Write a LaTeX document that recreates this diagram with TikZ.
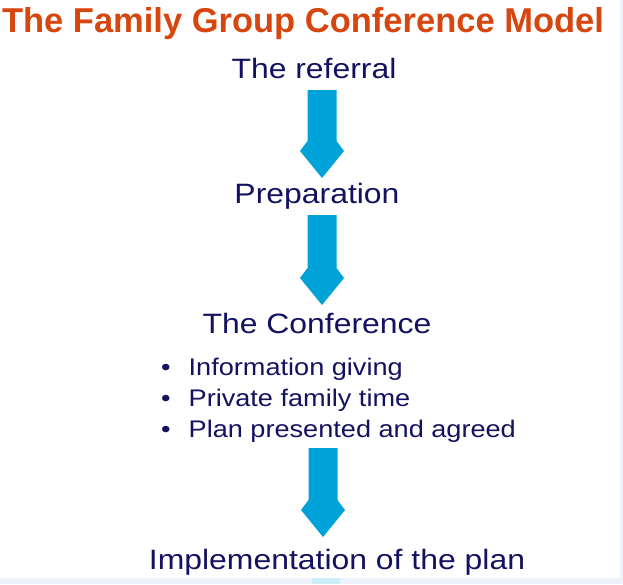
\documentclass[tikz,border=0pt]{standalone}
\usepackage{fontspec}
\setmainfont{Liberation Sans}
\newfontfamily\stepfont[FakeStretch=1.14]{Liberation Sans}
\newfontfamily\itemfont[FakeStretch=1.13]{Liberation Sans}
\usepackage{tikz}
\usetikzlibrary{calc}
\definecolor{titlered}{RGB}{214,70,14}
\definecolor{stepnavy}{RGB}{18,18,96}
\definecolor{arrowblue}{RGB}{0,162,218}
\definecolor{stripgray}{RGB}{237,241,249}
\tikzset{steptext/.style={anchor=base,inner sep=0pt,text=stepnavy,font=\stepfont\fontsize{28}{32}\selectfont},
  itemtext/.style={anchor=base west,inner sep=0pt,text=stepnavy,font=\itemfont\fontsize{24}{30}\selectfont},
  blockarrow/.style={fill=arrowblue,to path={let \p1=(\tikztostart), \p2=(\tikztotarget) in
    (\x1-14.5pt,\y1) -- (\x1+14.5pt,\y1) -- (\x1+14.5pt,\y2+37pt) -- (\x1+22pt,\y2+27pt) -- (\x2,\y2)
    -- (\x1-22pt,\y2+27pt) -- (\x1-14.5pt,\y2+37pt) -- cycle}}}

\begin{document}
\begin{tikzpicture}[x=1pt,y=-1pt]
\useasboundingbox (0,0) rectangle (623,584);
\fill[white] (0,0) rectangle (623,584);
\fill[stripgray] (620,0) rectangle (623,584);
\fill[stripgray] (0,578) rectangle (623,584);
\fill[arrowblue!20] (312,578) rectangle (340,584);
\node[anchor=base,inner sep=0pt,text=titlered,font=\bfseries\fontsize{34.5}{40}\selectfont] (title) at (303,32) {The Family Group Conference Model};
\node[steptext] (referral) at (314,78) {The referral};
\node[steptext] (preparation) at (317,203) {Preparation};
\node[steptext] (conference) at (317,333) {The Conference};
\node[itemtext] (item1) at (161,375) {\textbullet\hspace{18pt}Information giving};
\node[itemtext] (item2) at (161,406) {\textbullet\hspace{18pt}Private family time};
\node[itemtext] (item3) at (161,437) {\textbullet\hspace{18pt}Plan presented and agreed};
\node[steptext] (implementation) at (337,569) {Implementation of the plan};
\path[blockarrow] ($(referral.base)+(8,12)$) to ($(preparation.base)+(5,-25)$);
\path[blockarrow] ($(preparation.base)+(5,12)$) to ($(conference.base)+(5,-28)$);
\path[blockarrow] ($(item3.base west)+(162,11)$) to ($(implementation.base)+(-14,-32)$);
\end{tikzpicture}
\end{document}
